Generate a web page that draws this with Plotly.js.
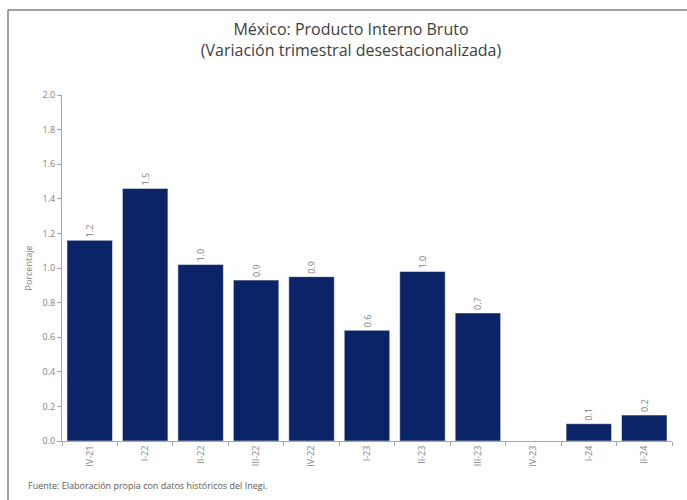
<!DOCTYPE html>
<html>
<head>
<meta charset="utf-8">
<script src="https://cdn.plot.ly/plotly-3.0.1.min.js"></script>
<style>
html,body{margin:0;padding:0;background:#fff;}
#chart{width:687px;height:500px;}
</style>
</head>
<body>
<div id="chart"></div>
<script>
// Data
const categories = ["IV-21","I-22","II-22","III-22","IV-22","I-23","II-23","III-23","IV-23","I-24","II-24"];
const values = [1.16, 1.46, 1.02, 0.93, 0.95, 0.64, 0.98, 0.74, 0.0, 0.10, 0.15];
const labels = ["1.2","1.5","1.0","0.9","0.9","0.6","1.0","0.7","","0.1","0.2"];
const yTicks = [0.0,0.2,0.4,0.6,0.8,1.0,1.2,1.4,1.6,1.8,2.0];

const FONT = "Open Sans, Noto Sans, Liberation Sans, sans-serif";
const L = 62, R = 15, T = 95, B = 59, W = 687, H = 500;
const pw = W - L - R, ph = H - T - B;
const px = p => (p - L) / pw;
const py = p => (H - B - p) / ph;

const trace = {
  type: "bar",
  x: categories,
  y: values,
  text: labels,
  textposition: "outside",
  textangle: -90,
  cliponaxis: false,
  textfont: {family: FONT, size: 9, color: "#808080"},
  marker: {color: "#0B2468", line: {color: "#ffffff", width: 0.5}},
  hoverinfo: "x+y"
};

const layout = {
  width: W, height: H,
  margin: {l: L, r: R, t: T, b: B},
  paper_bgcolor: "#ffffff",
  plot_bgcolor: "#ffffff",
  showlegend: false,
  bargap: 0.18,
  font: {family: FONT, color: "#808080"},
  title: {
    text: "México: Producto Interno Bruto<br>(Variación trimestral desestacionalizada)",
    font: {family: FONT, size: 16, color: "#404040"},
    xref: "container", x: 351 / W, xanchor: "center",
    yref: "container", y: 1 - 35 / H, yanchor: "middle"
  },
  xaxis: {
    type: "category",
    tickangle: -90,
    tickson: "boundaries",
    ticks: "outside",
    ticklen: 4,
    tickcolor: "#a6a6a6",
    showline: true,
    linecolor: "#a6a6a6",
    linewidth: 1,
    showgrid: false,
    tickfont: {family: FONT, size: 9, color: "#808080"},
    fixedrange: true
  },
  yaxis: {
    range: [0, 2.0],
    tickvals: yTicks,
    tickformat: ".1f",
    ticks: "outside",
    ticklen: 4,
    tickcolor: "#a6a6a6",
    showline: true,
    linecolor: "#a6a6a6",
    linewidth: 1,
    showgrid: false,
    zeroline: false,
    tickfont: {family: FONT, size: 9, color: "#808080"},
    title: {text: "Porcentaje", font: {family: FONT, size: 9, color: "#808080"}, standoff: 8},
    fixedrange: true
  },
  shapes: [
    {type: "line", xref: "paper", yref: "paper", x0: px(8), x1: px(690), y0: py(10), y1: py(10),
     line: {color: "#808080", width: 1.5}},
    {type: "line", xref: "paper", yref: "paper", x0: px(8), x1: px(8), y0: py(10), y1: py(502),
     line: {color: "#808080", width: 1.5}}
  ],
  annotations: [
    {text: "Fuente: Elaboración propia con datos históricos del Inegi.",
     xref: "paper", yref: "paper", x: px(26), y: py(485), xanchor: "left", yanchor: "middle",
     showarrow: false, font: {family: FONT, size: 9, color: "#595959"}}
  ]
};

Plotly.newPlot("chart", [trace], layout, {displayModeBar: false, staticPlot: true});
</script>
</body>
</html>
